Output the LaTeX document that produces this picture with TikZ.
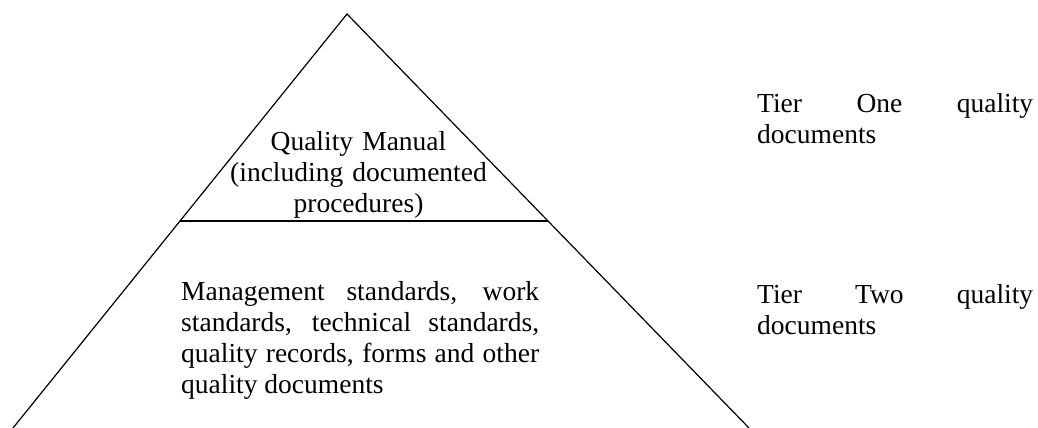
\documentclass[tikz,border=0pt]{standalone}
\usepackage{fontspec}
\setmainfont{Liberation Serif}
\usetikzlibrary{calc}
\begin{document}
\begin{tikzpicture}[x=1pt,y=-1pt,
  side/.style={line width=1.2pt},
  tierline/.style={line width=2.2pt},
  txt/.style={font=\fontsize{27.5}{31}\selectfont, inner sep=0pt,
    execute at begin node={\hyphenpenalty=10000\relax\exhyphenpenalty=10000\relax\tolerance=10000\relax\hbadness=10000\relax}}]
\useasboundingbox (0,0) rectangle (1038,428);
\coordinate (apex) at (347,14);
\coordinate (bl) at (13,428);
\coordinate (br) at (749,428);
\draw[side] (bl) -- (apex) -- (br);
\coordinate (jl) at ($(apex)!0.5!(bl)$);
\coordinate (jr) at ($(apex)!0.5!(br)$);
\draw[tierline] (jl) -- (jr);
\node[txt, text width=300pt, align=center, anchor=base] (manual) at (358.5,150)
  {Quality Manual\\(including documented\\procedures)};
\node[txt, text width=358pt, align=justify, anchor=base west] (tiertwo) at (181,300)
  {Management standards, work standards, technical standards, quality records, forms and other quality documents};
\node[txt, text width=276pt, align=justify, anchor=base west] (onelabel) at (757,112)
  {Tier One quality documents};
\node[txt, text width=276pt, align=justify, anchor=base west] (twolabel) at (757,303)
  {Tier Two quality documents};
\end{tikzpicture}
\end{document}
